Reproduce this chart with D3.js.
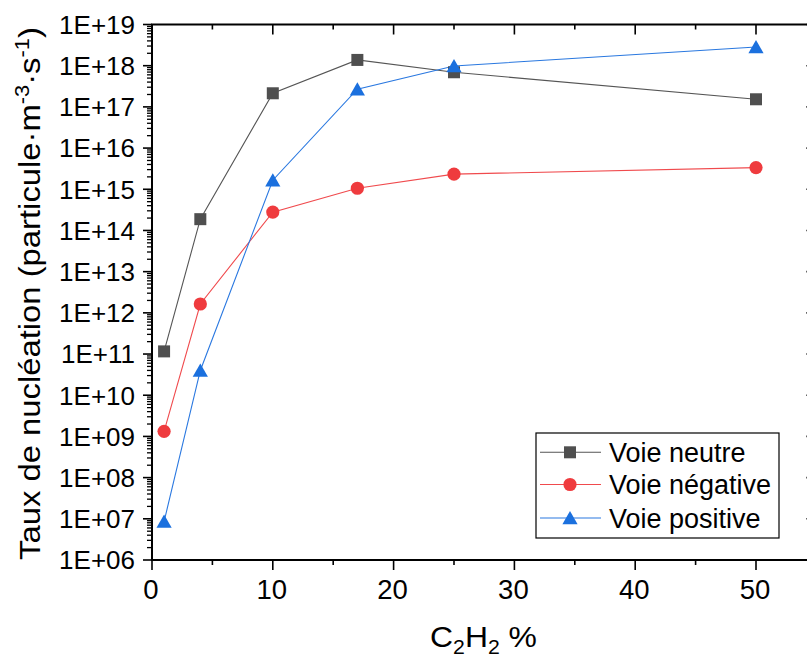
<!DOCTYPE html>
<html><head><meta charset="utf-8">
<script src="https://cdn.jsdelivr.net/npm/d3@7"></script>
<style>body{margin:0;background:#fff}svg{display:block}text{font-family:"Liberation Sans",Arial,sans-serif;fill:#000}</style>
</head><body><svg id="c" width="807" height="659"></svg>
<script>
const xValues = [1, 4, 10, 17, 25, 50];
const neutre = [1.16e11, 1.88e14, 2.14e17, 1.38e18, 6.93e17, 1.53e17];
const negative = [1.33e9, 1.64e12, 2.79e14, 1.06e15, 2.33e15, 3.36e15];
const positive = [8.6e6, 3.99e10, 1.66e15, 2.68e17, 9.85e17, 2.85e18];
const seriesNames = ["Voie neutre", "Voie négative", "Voie positive"];
const xTicks = [0, 10, 20, 30, 40, 50];
const yTickExps = [6,7,8,9,10,11,12,13,14,15,16,17,18,19];

const svg = d3.select("#c");
const L = 152, R = 816.4, T = 24.5, B = 560;
const x = d3.scaleLinear().domain([0, 55]).range([L, R]);
const y = d3.scaleLog().domain([1e6, 1e19]).range([B, T]);

const g = svg.append("g");
const minors = [];
for (let e = 6; e < 19; e++) for (let m = 2; m <= 9; m++) minors.push(m * Math.pow(10, e));
g.selectAll(".ml").data(minors).enter().append("line")
  .attr("x1", L - 5).attr("x2", L).attr("y1", d => y(d)).attr("y2", d => y(d))
  .attr("stroke", "#000").attr("stroke-width", 1.3);
g.selectAll(".mr").data(minors).enter().append("line")
  .attr("x1", R - 5).attr("x2", R).attr("y1", d => y(d)).attr("y2", d => y(d))
  .attr("stroke", "#000").attr("stroke-width", 1.3);
const majors = yTickExps.map(e => Math.pow(10, e));
g.selectAll(".Ml").data(majors).enter().append("line")
  .attr("x1", L - 9).attr("x2", L).attr("y1", d => y(d)).attr("y2", d => y(d))
  .attr("stroke", "#000").attr("stroke-width", 1.6);
g.selectAll(".Mr").data(majors).enter().append("line")
  .attr("x1", R - 10).attr("x2", R).attr("y1", d => y(d)).attr("y2", d => y(d))
  .attr("stroke", "#000").attr("stroke-width", 1.6);
g.selectAll(".yl").data(yTickExps).enter().append("text")
  .attr("x", 135).attr("y", e => y(Math.pow(10, e)) + 9.3)
  .attr("text-anchor", "end").attr("font-size", 26)
  .text(e => "1E+" + (e < 10 ? "0" + e : e));

const xMin = d3.range(5, 55, 10);
g.selectAll(".xb").data(xTicks).enter().append("line")
  .attr("x1", d => x(d)).attr("x2", d => x(d)).attr("y1", B).attr("y2", B + 10)
  .attr("stroke", "#000").attr("stroke-width", 1.6);
g.selectAll(".xbm").data(xMin).enter().append("line")
  .attr("x1", d => x(d)).attr("x2", d => x(d)).attr("y1", B).attr("y2", B + 5)
  .attr("stroke", "#000").attr("stroke-width", 1.6);
g.selectAll(".xt").data(xTicks).enter().append("line")
  .attr("x1", d => x(d)).attr("x2", d => x(d)).attr("y1", T).attr("y2", T + 10)
  .attr("stroke", "#000").attr("stroke-width", 1.6);
g.selectAll(".xtm").data(xMin).enter().append("line")
  .attr("x1", d => x(d)).attr("x2", d => x(d)).attr("y1", T).attr("y2", T + 5)
  .attr("stroke", "#000").attr("stroke-width", 1.6);
g.selectAll(".xl").data(xTicks).enter().append("text")
  .attr("x", d => x(d) - 1).attr("y", 599).attr("text-anchor", "middle").attr("font-size", 27.5)
  .text(d => d);

g.append("rect").attr("x", L).attr("y", T).attr("width", R - L).attr("height", B - T)
  .attr("fill", "none").attr("stroke", "#000").attr("stroke-width", 2);

const colors = ["#4f4f4f", "#ef3b3e", "#1b70de"];
const lineColors = ["#555555", "#f04a4d", "#2a78e0"];
const datasets = [neutre, negative, positive];
const line = d3.line().x(d => x(d[0])).y(d => y(d[1]));
function marker(sel, i) {
  if (i === 0) {
    sel.append("rect").attr("x", -6).attr("y", -6).attr("width", 12).attr("height", 12).attr("fill", colors[0]);
  } else if (i === 1) {
    sel.append("circle").attr("r", 6.6).attr("fill", colors[1]);
  } else {
    sel.append("path").attr("d", "M0,-7 L7.6,6.3 L-7.6,6.3 Z").attr("fill", colors[2]);
  }
}
datasets.forEach((ds, i) => {
  const pts = xValues.map((v, k) => [v, ds[k]]);
  g.append("path").attr("d", line(pts)).attr("fill", "none")
    .attr("stroke", lineColors[i]).attr("stroke-width", 1.1);
});
datasets.forEach((ds, i) => {
  xValues.forEach((v, k) => {
    const m = g.append("g").attr("transform", `translate(${x(v)},${y(ds[k])})`);
    marker(m, i);
  });
});

const lg = g.append("g");
lg.append("rect").attr("x", 536).attr("y", 433).attr("width", 243).attr("height", 105)
  .attr("fill", "#fff").attr("stroke", "#000").attr("stroke-width", 1.2);
const rowY = [452.3, 484.5, 518];
seriesNames.forEach((n, i) => {
  lg.append("line").attr("x1", 540).attr("x2", 601).attr("y1", rowY[i]).attr("y2", rowY[i])
    .attr("stroke", lineColors[i]).attr("stroke-width", 1.1);
  const m = lg.append("g").attr("transform", `translate(570,${rowY[i]})`);
  marker(m, i);
  lg.append("text").attr("x", 609).attr("y", rowY[i] + 9.7).attr("font-size", 27).text(n);
});

// x title, scaled to its measured width
const xtg = svg.append("g");
const xt = xtg.append("text").attr("x", 0).attr("y", 0).attr("text-anchor", "middle").attr("font-size", 30);
xt.append("tspan").text("C");
xt.append("tspan").attr("font-size", 20).attr("dy", 7).text("2");
xt.append("tspan").attr("dy", -7).text("H");
xt.append("tspan").attr("font-size", 20).attr("dy", 7).text("2");
xt.append("tspan").attr("dy", -7).text(" %");
const xw = xt.node().getBBox().width;
xtg.attr("transform", `translate(483.5,647) scale(${107 / xw},1)`);

const ytg = svg.append("g");
const yt = ytg.append("text").attr("x", 0).attr("y", 0).attr("text-anchor", "middle").attr("font-size", 30);
yt.append("tspan").text("Taux de nucléation (particule·m");
yt.append("tspan").attr("font-size", 20).attr("dy", -11).text("-3");
yt.append("tspan").attr("dy", 11).text("·s");
yt.append("tspan").attr("font-size", 20).attr("dy", -11).text("-1");
yt.append("tspan").attr("dy", 11).text(")");
const yw = yt.node().getBBox().width;
ytg.attr("transform", `translate(40,293.5) rotate(-90) scale(${533 / yw},1)`);
</script></body></html>
